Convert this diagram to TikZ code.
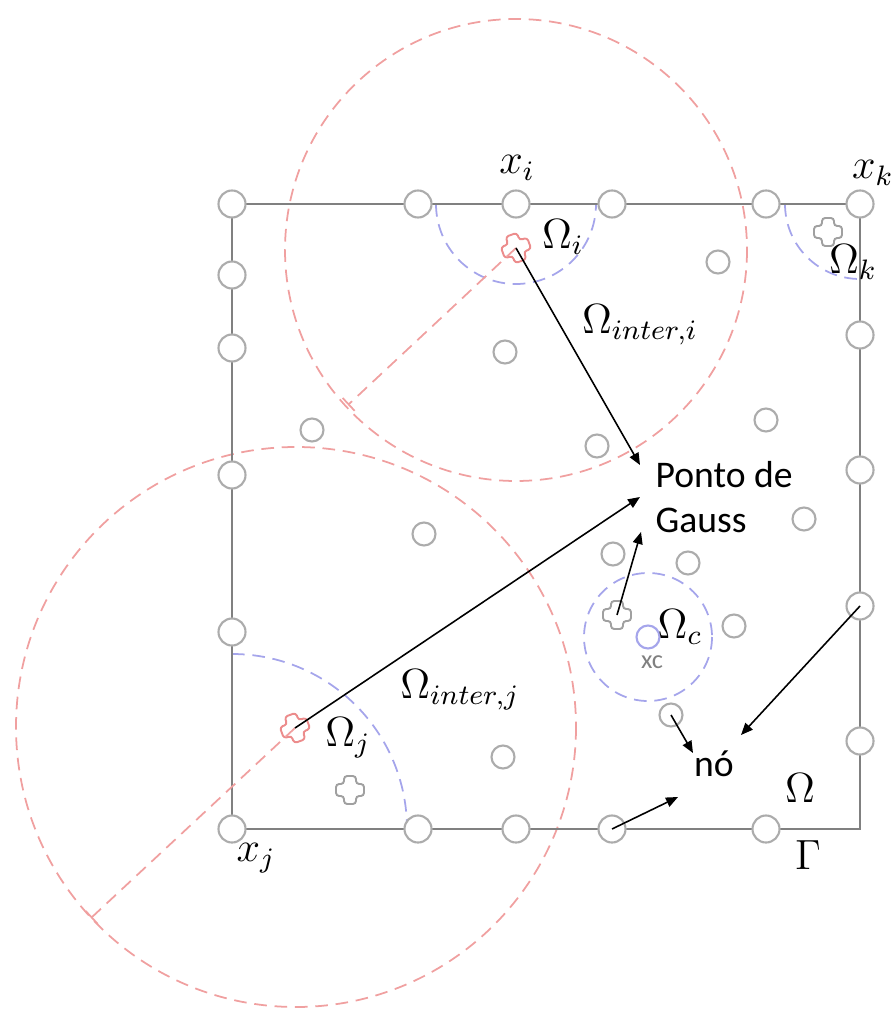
\documentclass[tikz,border=0pt]{standalone}
\usepackage{fontspec}
\setmainfont{Carlito}
\usetikzlibrary{arrows.meta}

\definecolor{ringgray}{RGB}{172,172,172}
\definecolor{edgegray}{RGB}{128,128,128}
\definecolor{dashred}{RGB}{240,160,160}
\definecolor{dashblue}{RGB}{165,165,235}
\definecolor{markred}{RGB}{236,140,140}
\definecolor{markgray}{RGB}{160,160,160}

\begin{document}
\begin{tikzpicture}[x=0.01cm, y=-0.01cm]
  \tikzset{nd/.style={circle, draw=ringgray, line width=0.6pt, fill=white, minimum size=0.27cm, inner sep=0pt},
    pt/.style={nd, minimum size=0.23cm},
    rdash/.style={draw=dashred, line width=0.5pt, dash pattern=on 3.6pt off 2.2pt},
    bdash/.style={draw=dashblue, line width=0.5pt, dash pattern=on 3.6pt off 2.2pt},
    lbl/.style={font=\fontsize{12}{14}\selectfont, inner sep=0pt},
    txt/.style={font=\fontsize{10.7}{12.6}\selectfont, inner sep=0pt, align=left},
    arr/.style={-{Triangle[length=3.4pt, width=2.8pt]}, line width=0.45pt},
    mk/.pic={\draw[rounded corners=0.9pt, line width=0.55pt] (-6,-14) -- (6,-14) -- (6,-6) -- (14,-6) -- (14,6) -- (6,6) -- (6,14) -- (-6,14) -- (-6,6) -- (-14,6) -- (-14,-6) -- (-6,-6) -- cycle;}}
  \useasboundingbox (0,0) rectangle (894,1010);

  \draw[rdash] (516,250) circle (231);
  \draw[rdash] (296,727) circle (280);
  \draw[bdash] (436,204) arc (180:0:80);
  \draw[bdash] (785,204) arc (180:90:75);
  \draw[bdash] (232,654) arc (-90:0:175);
  \draw[bdash] (648,637) circle (64);

  \draw[draw=edgegray, line width=0.7pt] (232,204) rectangle (860,829);

  \node[nd] (t1) at (232,204) {};
  \node[nd] (t2) at (418,204) {};
  \node[nd] (xi) at (516,204) {};
  \node[nd] (t4) at (612,204) {};
  \node[nd] (t5) at (766,204) {};
  \node[nd] (xk) at (860,204) {};
  \node[nd] (l1) at (232,275) {};
  \node[nd] (l2) at (232,348) {};
  \node[nd] (l3) at (232,475) {};
  \node[nd] (l4) at (232,632) {};
  \node[nd] (xj) at (232,829) {};
  \node[nd] (b1) at (418,829) {};
  \node[nd] (b2) at (516,829) {};
  \node[nd] (b3) at (612,829) {};
  \node[nd] (b4) at (766,829) {};
  \node[nd] (r1) at (860,335) {};
  \node[nd] (r2) at (860,470) {};
  \node[nd] (r3) at (860,606) {};
  \node[nd] (r4) at (860,741) {};

  \node[pt] (p1) at (718,262) {};
  \node[pt] (p2) at (505,352) {};
  \node[pt] (p3) at (312,430) {};
  \node[pt] (p4) at (597,446) {};
  \node[pt] (p5) at (766,420) {};
  \node[pt] (p6) at (424,534) {};
  \node[pt] (p7) at (804,519) {};
  \node[pt] (p8) at (613,554) {};
  \node[pt] (p9) at (688,563) {};
  \node[pt] (p10) at (734,626) {};
  \node[pt] (p11) at (671,715) {};
  \node[pt] (p12) at (503,757) {};
  \node[pt, draw=dashblue] (xc) at (648,637) {};

  \coordinate (ci) at (516,248);
  \coordinate (cj) at (295,728);
  \coordinate (cc) at (617,615);
  \pic[markred, rotate=20] at (ci) {mk};
  \pic[markred, rotate=20] at (cj) {mk};
  \pic[markgray] at (cc) {mk};
  \pic[markgray] at (828,232) {mk};
  \pic[markgray] at (350,790) {mk};

  \draw[rdash, -{Bar[width=5pt]}] (ci) -- (348,405);
  \draw[rdash, -{Bar[width=5pt]}] (cj) -- (91,918);

  \node[txt, anchor=north west] (gauss) at (655,461) {Ponto de\\Gauss};
  \node[txt] (no) at (714,764) {nó};
  \coordinate (g1) at (640,465);
  \coordinate (g2) at (640,497);
  \coordinate (g3) at (641,532);
  \coordinate (n1) at (741,735);
  \coordinate (n2) at (693,753);
  \coordinate (n3) at (678,797);

  \draw[arr] (ci) -- (g1);
  \draw[arr] (cj) -- (g2);
  \draw[arr] (cc) -- (g3);
  \draw[arr] (r3.center) -- (n1);
  \draw[arr] (p11.center) -- (n2);
  \draw[arr] (b3.center) -- (n3);

  \node[lbl] (lxi) at (517,168) {$x_i$};
  \node[lbl] (lxk) at (873,173) {$x_k$};
  \node[lbl] (lxj) at (256,858) {$x_j$};
  \node[lbl] (loi) at (563,237) {$\Omega_i$};
  \node[lbl] (lok) at (853,262) {$\Omega_k$};
  \node[lbl] (loc) at (680,627) {$\Omega_c$};
  \node[lbl] (loj) at (348,738) {$\Omega_j$};
  \node[lbl] (lii) at (640,325) {$\Omega_{inter,i}$};
  \node[lbl] (lij) at (460,690) {$\Omega_{inter,j}$};
  \node[lbl] (lom) at (800,788) {$\Omega$};
  \node[lbl] (lga) at (808,855) {$\Gamma$};
  \node[font=\fontsize{7.5}{9}\selectfont, text=edgegray, inner sep=0pt] (lxc) at (652,662) {xc};
\end{tikzpicture}
\end{document}
